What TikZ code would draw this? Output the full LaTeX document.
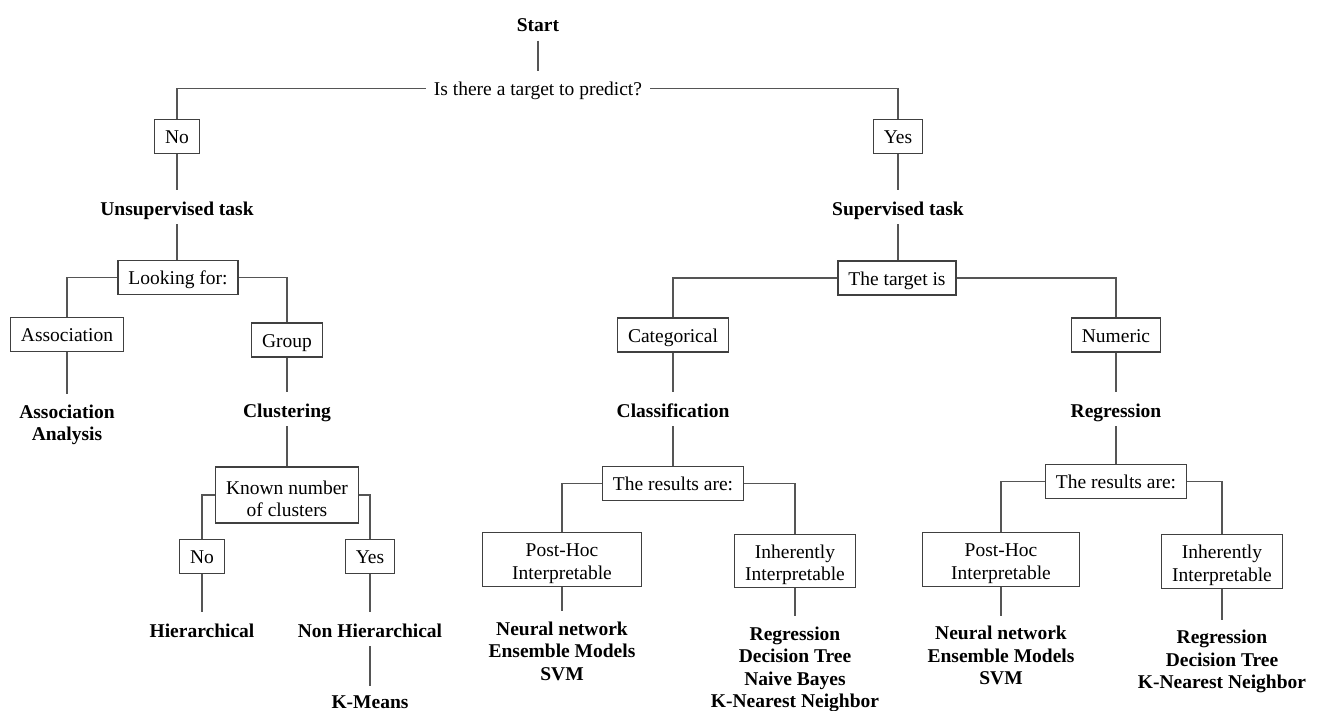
\documentclass[tikz,border=0pt]{standalone}
\usepackage{fontspec}
\setmainfont{Liberation Serif}
\definecolor{linec}{HTML}{555555}
\definecolor{boxc}{HTML}{404040}
\newcommand\fstrut{\rule{0pt}{21pt}}
\begin{document}
\begin{tikzpicture}[x=1pt,y=-1pt,
  conn/.style={draw=linec, line width=1.2pt},
  lbl/.style={font=\fontsize{19.5}{22.5}\selectfont\bfseries, inner xsep=4pt, inner ysep=4.5pt, text height=20pt, text depth=4.5pt, anchor=base},
  qlbl/.style={font=\fontsize{19.5}{22.5}\selectfont, inner xsep=8pt, inner ysep=4.5pt, text height=20pt, text depth=4.5pt, anchor=base},
  mlbl/.style={font=\fontsize{19.5}{22.5}\selectfont\bfseries, align=center, inner ysep=10.5pt, anchor=north},
  box/.style={draw=boxc, line width=1.2pt, font=\fontsize{19.5}{22.5}\selectfont, inner xsep=10.5pt, inner ysep=0pt, minimum height=34pt, text height=15pt, text depth=1pt},
  mbox/.style={draw=boxc, line width=1.2pt, font=\fontsize{19.5}{22.5}\selectfont, align=center, inner xsep=10.5pt, inner ysep=3pt, minimum height=52pt},
]
\useasboundingbox (0,0) rectangle (1321,711);
% top
\node[lbl] (start) at (538,31.5) {Start};
\node[qlbl] (q) at (538,96) {Is there a target to predict?};
\node[box] (no1) at (177,136.5) {No};
\node[box] (yes1) at (898,136.5) {Yes};
% unsupervised
\node[lbl] (unsup) at (177,215) {Unsupervised task};
\node[box] (look) at (178,277.5) {Looking for:};
\node[box] (assoc) at (67,334.5) {Association};
\node[box] (group) at (287,340) {Group};
\node[mlbl] (assocan) at (67,393.8) {Association\\Analysis};
\node[lbl] (clust) at (287,417) {Clustering};
\node[mbox, minimum height=56pt] (known) at (287,495) {\fstrut Known number\\of clusters};
\node[box] (no2) at (202,556.5) {No};
\node[box] (yes2) at (370,556.5) {Yes};
\node[lbl] (hier) at (202,637) {Hierarchical};
\node[lbl] (nonhier) at (370,637) {Non Hierarchical};
\node[lbl, inner ysep=2pt, text depth=1pt] (kmeans) at (370,708.5) {K-Means};
% supervised
\node[lbl] (sup) at (898,215) {Supervised task};
\node[box] (target) at (897,278) {The target is};
\node[box] (cat) at (673,335) {Categorical};
\node[box] (num) at (1116,335) {Numeric};
\node[lbl] (classif) at (673,417) {Classification};
\node[lbl] (regr) at (1116,417) {Regression};
\node[box] (resc) at (673,483.5) {The results are:};
\node[box] (resr) at (1116,481.5) {The results are:};
\node[mbox, minimum width=159pt] (phc) at (562,559.5) {\fstrut Post-Hoc\\Interpretable};
\node[mbox] (ihc) at (795,561) {\fstrut Inherently\\Interpretable};
\node[mbox, minimum width=157pt] (phr) at (1001,559.5) {\fstrut Post-Hoc\\Interpretable};
\node[mbox] (ihr) at (1222,561.5) {\fstrut Inherently\\Interpretable};
\node[mlbl] (lphc) at (562,611.2) {Neural network\\Ensemble Models\\SVM};
\node[mlbl] (lihc) at (795,616.2) {Regression\\Decision Tree\\Naive Bayes\\K-Nearest Neighbor};
\node[mlbl] (lphr) at (1001,615.5) {Neural network\\Ensemble Models\\SVM};
\node[mlbl] (lihr) at (1222,619.5) {Regression\\Decision Tree\\K-Nearest Neighbor};
% connectors
\draw[conn] (start.south) -- (q.north);
\draw[conn] (q.west) -| (no1.north);
\draw[conn] (q.east) -| (yes1.north);
\draw[conn] (no1.south) -- (unsup.north);
\draw[conn] (unsup.south) -- (look.north -| unsup.south);
\draw[conn] (look.west) -| (assoc.north);
\draw[conn] (look.east) -| (group.north);
\draw[conn] (assoc.south) -- (assocan.north);
\draw[conn] (group.south) -- (clust.north);
\draw[conn] (clust.south) -- (known.north);
\draw[conn] (known.west) -| (no2.north);
\draw[conn] (known.east) -| (yes2.north);
\draw[conn] (no2.south) -- (hier.north);
\draw[conn] (yes2.south) -- (nonhier.north);
\draw[conn] (nonhier.south) -- (kmeans.north);
\draw[conn] (yes1.south) -- (sup.north);
\draw[conn] (sup.south) -- (target.north -| sup.south);
\draw[conn] (target.west) -| (cat.north);
\draw[conn] (target.east) -| (num.north);
\draw[conn] (cat.south) -- (classif.north);
\draw[conn] (num.south) -- (regr.north);
\draw[conn] (classif.south) -- (resc.north);
\draw[conn] (regr.south) -- (resr.north);
\draw[conn] (resc.west) -| (phc.north);
\draw[conn] (resc.east) -| (ihc.north);
\draw[conn] (resr.west) -| (phr.north);
\draw[conn] (resr.east) -| (ihr.north);
\draw[conn] (phc.south) -- (lphc.north);
\draw[conn] (ihc.south) -- (lihc.north);
\draw[conn] (phr.south) -- (lphr.north);
\draw[conn] (ihr.south) -- (lihr.north);
\end{tikzpicture}
\end{document}
